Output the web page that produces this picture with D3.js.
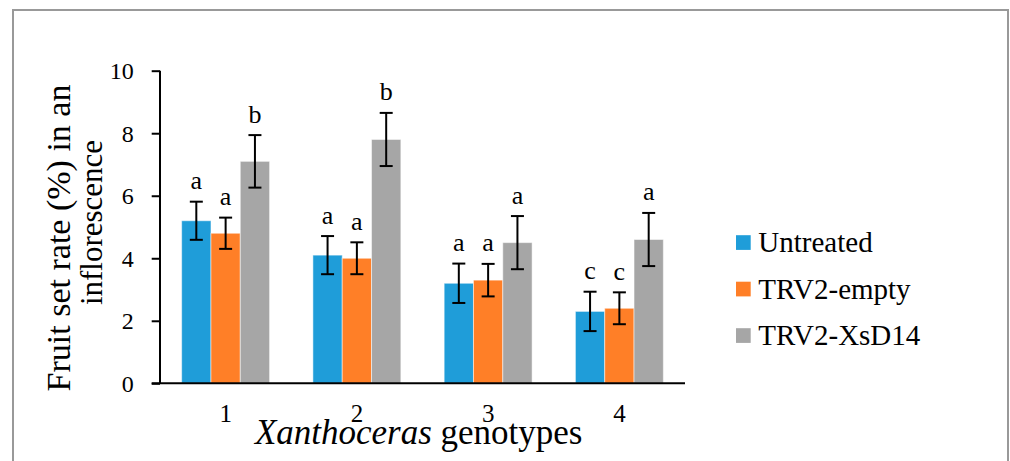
<!DOCTYPE html>
<html>
<head>
<meta charset="utf-8">
<script src="https://cdn.jsdelivr.net/npm/d3@7"></script>
<style>
  html, body { margin: 0; padding: 0; background: #fff; }
  svg text { font-family: "Liberation Serif", "Times New Roman", "DejaVu Serif", serif !important; }
</style>
</head>
<body>
<svg id="chart" width="1010" height="461"></svg>
<script>
// ---- data ----
const categories = ["1", "2", "3", "4"];
const seriesNames = ["Untreated", "TRV2-empty", "TRV2-XsD14"];
const untreated = [5.2, 4.1, 3.2, 2.3];
const trv2Empty = [4.8, 4.0, 3.3, 2.4];
const trv2XsD14 = [7.1, 7.8, 4.5, 4.6];
const errUntreated = [0.61, 0.61, 0.63, 0.63];
const errEmpty = [0.5, 0.51, 0.52, 0.51];
const errXsD14 = [0.84, 0.85, 0.85, 0.85];
const lettersUntreated = ["a", "a", "a", "c"];
const lettersEmpty = ["a", "a", "a", "c"];
const lettersXsD14 = ["b", "b", "a", "a"];
const yTicks = [0, 2, 4, 6, 8, 10];
const colors = ["#1f9dd9", "#ff7f27", "#a6a6a6"];

const seriesValues = [untreated, trv2Empty, trv2XsD14];
const seriesErr = [errUntreated, errEmpty, errXsD14];
const seriesLetters = [lettersUntreated, lettersEmpty, lettersXsD14];

const svg = d3.select("#chart");

// frame
svg.append("path")
  .attr("d", "M13,470 L13,10 L1008,10 L1008,470")
  .attr("fill", "none")
  .attr("stroke", "#999")
  .attr("stroke-width", 2);

const x0 = d3.scaleBand().domain(categories).range([160, 685])
  .paddingInner(0.33).paddingOuter(0.165);
const x1 = d3.scaleBand().domain(seriesNames).range([0, x0.bandwidth()]);
const y = d3.scaleLinear().domain([0, 10]).range([383.3, 70.7]);

// data table
const rows = [];
categories.forEach((c, i) => {
  seriesNames.forEach((s, j) => {
    rows.push({ cat: c, s, j, v: seriesValues[j][i], e: seriesErr[j][i], l: seriesLetters[j][i] });
  });
});

// bars
svg.append("g").selectAll("rect").data(rows).join("rect")
  .attr("x", d => x0(d.cat) + x1(d.s))
  .attr("y", d => y(d.v))
  .attr("width", x1.bandwidth())
  .attr("height", d => y(0) - y(d.v))
  .attr("fill", d => colors[d.j])
  .attr("stroke", "rgba(255,255,255,0.5)")
  .attr("stroke-width", 1);

// error bars
const eg = svg.append("g").attr("stroke", "#000").attr("stroke-width", 2);
rows.forEach(d => {
  const cx = x0(d.cat) + x1(d.s) + x1.bandwidth() / 2;
  const top = y(d.v + d.e), bot = y(d.v - d.e);
  eg.append("line").attr("x1", cx).attr("x2", cx).attr("y1", top).attr("y2", bot);
  eg.append("line").attr("x1", cx - 6.5).attr("x2", cx + 6.5).attr("y1", top).attr("y2", top);
  eg.append("line").attr("x1", cx - 6.5).attr("x2", cx + 6.5).attr("y1", bot).attr("y2", bot);
});

// significance letters
svg.append("g").selectAll("text").data(rows).join("text")
  .attr("x", d => x0(d.cat) + x1(d.s) + x1.bandwidth() / 2)
  .attr("y", d => y(d.v + d.e) - 12.5)
  .attr("text-anchor", "middle")
  .attr("font-size", 26)
  .attr("fill", "#000")
  .text(d => d.l);

// y axis
const yAxis = svg.append("g").attr("transform", "translate(160,0)")
  .call(d3.axisLeft(y).tickValues(yTicks).tickSize(8.3).tickPadding(18).tickFormat(d3.format("d")));
yAxis.attr("font-family", null).attr("font-size", null);
yAxis.select(".domain").attr("stroke", "#000").attr("stroke-width", 2).attr("d", `M0,${y(10)}V${y(0)}`);
yAxis.selectAll(".tick line").attr("stroke", "#000").attr("stroke-width", 2);
yAxis.selectAll(".tick text").attr("font-size", 24).attr("fill", "#000").attr("dy", "0.34em");

// x axis
const xAxis = svg.append("g").attr("transform", `translate(0,${y(0)})`)
  .call(d3.axisBottom(x0).tickSize(0).tickPadding(0));
xAxis.attr("font-family", null).attr("font-size", null);
xAxis.select(".domain").attr("stroke", "#000").attr("stroke-width", 2).attr("d", `M151.7,0H685`);
xAxis.selectAll(".tick text").attr("font-size", 25).attr("fill", "#000").attr("y", 39).attr("dy", 0);

// x title
const xt = svg.append("text")
  .attr("x", 418.7).attr("y", 443.5)
  .attr("text-anchor", "middle")
  .attr("font-size", 35).attr("fill", "#000");
xt.append("tspan").attr("font-style", "italic").text("Xanthoceras");
xt.append("tspan").text(" genotypes");

// y title (two lines)
svg.append("text")
  .attr("transform", "translate(70,238) rotate(-90)")
  .attr("text-anchor", "middle").attr("font-size", 34).attr("fill", "#000")
  .text("Fruit set rate (%) in an");
svg.append("text")
  .attr("transform", "translate(101.7,222.5) rotate(-90)")
  .attr("text-anchor", "middle").attr("font-size", 31).attr("fill", "#000")
  .text("inflorescence");

// legend
const lg = svg.append("g");
const legendY = [242.5, 289, 335.5];
seriesNames.forEach((s, j) => {
  lg.append("rect").attr("x", 736).attr("y", legendY[j] - 7.3)
    .attr("width", 14.7).attr("height", 14.7).attr("fill", colors[j]);
  lg.append("text").attr("x", 758.3).attr("y", legendY[j] + 9.5)
    .attr("font-size", 29).attr("fill", "#000").text(s);
});
</script>
</body>
</html>
